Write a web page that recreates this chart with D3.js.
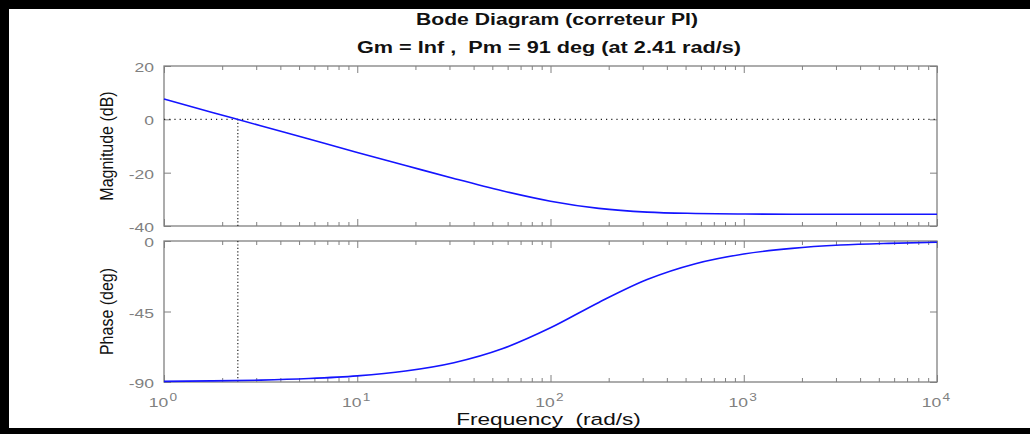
<!DOCTYPE html>
<html>
<head>
<meta charset="utf-8">
<script src="https://cdn.jsdelivr.net/npm/d3@7"></script>
<style>
html,body{margin:0;padding:0;background:#fff;}
svg{display:block;}
text{font-family:"Liberation Sans",Arial,Helvetica,sans-serif;}
</style>
</head>
<body>
<svg id="chart" width="1030" height="434"></svg>
<script>
// ---- data ----
const freq = [1, 1.778, 3.162, 5.623, 10, 17.78, 31.62, 56.23, 100, 177.8, 316.2, 562.3, 1000, 1778, 3162, 5623, 10000];
const magnitudeDb = [7.6, 2.6, -2.4, -7.4, -12.4, -17.3, -22.2, -26.8, -30.7, -33.4, -34.8, -35.3, -35.5, -35.6, -35.6, -35.6, -35.6];
const phaseDeg = [-89.6, -89.3, -88.8, -87.8, -86.1, -83.0, -77.7, -68.8, -55.4, -39.2, -24.6, -14.5, -8.3, -4.7, -2.6, -1.5, -0.8];
const magTicks = [20, 0, -20, -40];
const phaseTicks = [0, -45, -90];
const freqTicks = [1, 10, 100, 1000, 10000];
const freqTickExp = ["0", "1", "2", "3", "4"];
const crossoverFreq = 2.41;
const titleLines = ["Bode Diagram (correteur PI)", "Gm = Inf ,  Pm = 91 deg (at 2.41 rad/s)"];

const svg = d3.select("#chart");
const W = 1030, H = 434;
const SX = 1.3; // horizontal stretch of the reference's text

svg.append("rect").attr("x",0).attr("y",0).attr("width",W).attr("height",H).attr("fill","#fff");

const x0 = 164, x1 = 937;
const x = d3.scaleLog().domain([1, 10000]).range([x0, x1]);
const yMag = d3.scaleLinear().domain([-40, 20]).range([226, 66]);
const yPh = d3.scaleLinear().domain([-90, 0]).range([382, 241]);

const axisColor = "#808080";
const labelGray = "#808080";
const fmt = v => String(v); // plain hyphen minus

const minor = [];
for (let d = 0; d < 4; d++) for (let k = 2; k <= 9; k++) minor.push(k * Math.pow(10, d));

function stretchedText(parent, tx, ty, str, opts) {
  const g = parent.append("g").attr("transform", `translate(${tx},${ty}) scale(${opts.sx || SX},1)${opts.rot ? " rotate(" + opts.rot + ")" : ""}`);
  const t = g.append("text").attr("x", 0).attr("y", 0)
    .attr("text-anchor", opts.anchor || "middle")
    .attr("font-size", opts.size).attr("fill", opts.fill || "#111")
    .attr("font-weight", opts.weight || "normal")
    .attr("xml:space", "preserve");
  if (str !== null) t.text(str);
  return t;
}

function panel(y, yTicks, yLabel) {
  const [yb, yt] = y.range();
  const g = svg.append("g");
  const mk = (axisFn, yy, vals, len) => {
    const a = g.append("g").attr("transform", `translate(0,${yy})`)
      .call(axisFn(x).tickValues(vals).tickSize(-len).tickFormat(""));
    a.select(".domain").remove();
    a.selectAll("line").attr("stroke", axisColor);
  };
  mk(d3.axisBottom, yb, minor, 4);
  mk(d3.axisBottom, yb, freqTicks, 7);
  mk(d3.axisTop, yt, minor, 4);
  mk(d3.axisTop, yt, freqTicks, 7);
  const yl = g.append("g").attr("transform", `translate(${x0},0)`)
    .call(d3.axisLeft(y).tickValues(yTicks).tickSize(-7).tickFormat(""));
  yl.select(".domain").remove();
  yl.selectAll("line").attr("stroke", axisColor);
  const yr = g.append("g").attr("transform", `translate(${x1},0)`)
    .call(d3.axisRight(y).tickValues(yTicks).tickSize(-7).tickFormat(""));
  yr.select(".domain").remove();
  yr.selectAll("line").attr("stroke", axisColor);
  g.append("rect").attr("x", x0).attr("y", yt).attr("width", x1 - x0).attr("height", yb - yt)
    .attr("fill", "none").attr("stroke", axisColor).attr("stroke-width", 1.3);
  yTicks.forEach(v => {
    stretchedText(g, 154, y(v) + 6, fmt(v), { size: 13.5, anchor: "end", fill: labelGray });
  });
  stretchedText(g, 113, (yb + yt) / 2, yLabel, { size: 16, rot: -90, sx: 1.2, fill: "#111" });
  return g;
}

const gm = panel(yMag, magTicks, "Magnitude (dB)");
const gp = panel(yPh, phaseTicks, "Phase (deg)");

// dotted reference lines
gm.append("line").attr("x1", x0).attr("x2", x1).attr("y1", yMag(0)).attr("y2", yMag(0))
  .attr("stroke", "#222").attr("stroke-width", 1.2).attr("stroke-dasharray", "1.2,4");
gm.append("line").attr("x1", x(crossoverFreq)).attr("x2", x(crossoverFreq)).attr("y1", yMag(0)).attr("y2", yMag(-40))
  .attr("stroke", "#222").attr("stroke-width", 1.2).attr("stroke-dasharray", "1.2,2.2");
gp.append("line").attr("x1", x(crossoverFreq)).attr("x2", x(crossoverFreq)).attr("y1", yPh(0)).attr("y2", yPh(-90))
  .attr("stroke", "#222").attr("stroke-width", 1.2).attr("stroke-dasharray", "1.2,2.2");

// curves
const lineMag = d3.line().x((d, i) => x(freq[i])).y(d => yMag(d)).curve(d3.curveMonotoneX);
const linePh = d3.line().x((d, i) => x(freq[i])).y(d => yPh(d)).curve(d3.curveMonotoneX);
gm.append("path").attr("d", lineMag(magnitudeDb)).attr("fill", "none").attr("stroke", "#1414ff").attr("stroke-width", 1.6);
gp.append("path").attr("d", linePh(phaseDeg)).attr("fill", "none").attr("stroke", "#1414ff").attr("stroke-width", 1.6);

// x tick labels (10^n)
freqTicks.forEach((f, i) => {
  const t = stretchedText(svg, x(f) - 1, 407, null, { size: 13.5, fill: labelGray });
  t.append("tspan").text("10");
  t.append("tspan").attr("dy", -6).attr("dx", 1).attr("font-size", 10.5).text(freqTickExp[i]);
});

// x label
stretchedText(svg, 548.5, 425, "Frequency  (rad/s)", { size: 17, sx: 1.33, fill: "#111" });

// title
const titleX = [557, 549];
const titleY = [25, 53];
const titleW = [282, 384];
titleLines.forEach((s, i) => {
  svg.append("text").attr("x", titleX[i]).attr("y", titleY[i]).attr("text-anchor", "middle")
    .attr("font-size", 16).attr("font-weight", "bold").attr("fill", "#111")
    .attr("textLength", titleW[i]).attr("lengthAdjust", "spacingAndGlyphs")
    .attr("xml:space", "preserve").text(s);
});

// black frame (drawn last: it hides descenders at the bottom edge)
svg.append("rect").attr("x",0).attr("y",0).attr("width",W).attr("height",9).attr("fill","#000");
svg.append("rect").attr("x",0).attr("y",0).attr("width",9).attr("height",H).attr("fill","#000");
svg.append("rect").attr("x",0).attr("y",428).attr("width",W).attr("height",H-428).attr("fill","#000");
</script>
</body>
</html>
